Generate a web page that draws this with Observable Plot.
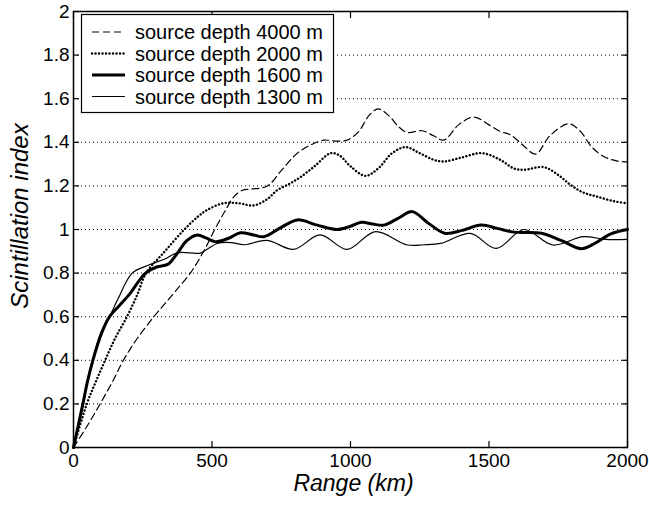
<!DOCTYPE html>
<html><head><meta charset="utf-8">
<script src="https://cdn.jsdelivr.net/npm/d3@7"></script>
<script src="https://cdn.jsdelivr.net/npm/@observablehq/plot@0.6"></script>
<style>body{margin:0;background:#fff} svg{font-family:"Liberation Sans",Arial,sans-serif}</style>
</head><body><div id="chart"></div>
<script>
const xTicks = [0, 500, 1000, 1500, 2000];
const yTicks = [0, 0.2, 0.4, 0.6, 0.8, 1, 1.2, 1.4, 1.6, 1.8, 2];
const gridY = [0.2, 0.4, 0.6, 0.8, 1, 1.2, 1.4, 1.6, 1.8];
const seriesNames = ["source depth 4000 m", "source depth 2000 m", "source depth 1600 m", "source depth 1300 m"];

const range4000 = [0, 50, 96, 140, 180, 230, 290, 330, 370, 422, 470, 510, 545, 579, 610, 640, 700, 750, 808, 860, 904, 950, 988, 1030, 1065, 1100, 1140, 1175, 1205, 1259, 1300, 1337, 1390, 1445, 1500, 1540, 1578, 1620, 1668, 1720, 1788, 1830, 1870, 1914, 1960, 2000];
const value4000 = [0, 0.1, 0.2, 0.3, 0.4, 0.5, 0.6, 0.66, 0.72, 0.8, 0.9, 1.0, 1.08, 1.15, 1.18, 1.185, 1.2, 1.27, 1.35, 1.39, 1.41, 1.405, 1.41, 1.45, 1.52, 1.553, 1.52, 1.47, 1.445, 1.453, 1.43, 1.41, 1.48, 1.516, 1.48, 1.45, 1.434, 1.39, 1.346, 1.43, 1.485, 1.45, 1.38, 1.335, 1.315, 1.31];

const range2000 = [0, 48, 80, 114, 150, 193, 230, 262, 330, 400, 450, 483, 540, 600, 650, 700, 735, 780, 819, 870, 928, 960, 1000, 1054, 1100, 1150, 1199, 1250, 1300, 1337, 1400, 1475, 1540, 1590, 1626, 1698, 1750, 1794, 1840, 1890, 1950, 2000];
const value2000 = [0, 0.2, 0.3, 0.4, 0.5, 0.6, 0.7, 0.8, 0.9, 1.0, 1.06, 1.09, 1.12, 1.12, 1.11, 1.14, 1.18, 1.21, 1.24, 1.29, 1.35, 1.34, 1.29, 1.246, 1.28, 1.35, 1.378, 1.35, 1.32, 1.312, 1.33, 1.35, 1.32, 1.28, 1.274, 1.286, 1.25, 1.205, 1.17, 1.151, 1.13, 1.12];

const range1600 = [0, 34, 50, 70, 100, 130, 165, 200, 260, 300, 340, 374, 410, 447, 480, 512, 560, 603, 650, 687, 750, 808, 880, 952, 1000, 1040, 1080, 1120, 1170, 1223, 1280, 1340, 1400, 1472, 1530, 1590, 1690, 1760, 1833, 1880, 1940, 2000];
const value1600 = [0, 0.2, 0.3, 0.4, 0.52, 0.6, 0.65, 0.7, 0.8, 0.828, 0.84, 0.89, 0.95, 0.975, 0.96, 0.944, 0.96, 0.985, 0.975, 0.967, 1.01, 1.044, 1.02, 1.0, 1.015, 1.033, 1.025, 1.02, 1.05, 1.082, 1.03, 0.983, 0.995, 1.021, 1.005, 0.988, 0.983, 0.95, 0.912, 0.935, 0.98, 1.0];

const range1300 = [0, 32, 68, 100, 130, 160, 212, 272, 330, 374, 420, 458, 519, 570, 615, 699, 795, 890, 988, 1090, 1205, 1265, 1325, 1433, 1526, 1626, 1730, 1840, 1920, 2000];
const value1300 = [0, 0.2, 0.4, 0.53, 0.6, 0.68, 0.8, 0.837, 0.865, 0.893, 0.893, 0.892, 0.936, 0.94, 0.93, 0.95, 0.909, 0.975, 0.909, 0.99, 0.929, 0.93, 0.936, 0.982, 0.913, 1.0, 0.929, 0.967, 0.955, 0.955];

const toRows = (xs, ys) => xs.map((x, i) => ({x, y: ys[i]}));
const styles = [
  {strokeWidth: 1.2, strokeDasharray: "7,4"},
  {strokeWidth: 2.4, strokeDasharray: "0.1,3.4", strokeLinecap: "round"},
  {strokeWidth: 3},
  {strokeWidth: 1.2}
];
const data = [toRows(range4000, value4000), toRows(range2000, value2000), toRows(range1600, value1600), toRows(range1300, value1300)];
const font = '"Liberation Sans", Arial, sans-serif';

const chart = Plot.plot({
  width: 649, height: 508,
  marginLeft: 73, marginRight: 22, marginTop: 11, marginBottom: 61,
  x: {domain: [0, 2000]},
  y: {domain: [0, 2]},
  style: {fontFamily: font, fontSize: "19px", color: "black", background: "white"},
  marks: [
    Plot.ruleY(gridY, {stroke: "black", strokeWidth: 1, strokeDasharray: "1,3"}),
    ...data.map((d, i) => Plot.line(d, {x: "x", y: "y", curve: "catmull-rom", stroke: "black", ...styles[i]})),
    Plot.frame({stroke: "black", strokeWidth: 1.5}),
    Plot.axisX({anchor: "bottom", ticks: xTicks, tickSize: -6, tickFormat: () => "", label: null, strokeWidth: 1.2}),
    Plot.axisX({anchor: "top", ticks: xTicks, tickSize: -6, tickFormat: () => "", label: null, strokeWidth: 1.2}),
    Plot.axisY({anchor: "left", ticks: yTicks, tickSize: -6, tickFormat: () => "", label: null, strokeWidth: 1.2}),
    Plot.axisY({anchor: "right", ticks: yTicks, tickSize: -6, tickFormat: () => "", label: null, strokeWidth: 1.2}),
    Plot.axisX({anchor: "bottom", ticks: xTicks, tickSize: 0, tickPadding: 6, tickFormat: d => String(d), label: null, fontSize: 19}),
    Plot.axisY({anchor: "left", ticks: yTicks, tickSize: 0, tickPadding: 4, tickFormat: d => String(d), label: null, fontSize: 19}),
    Plot.text(["Range (km)"], {frameAnchor: "bottom", textAnchor: "middle", lineAnchor: "bottom", dy: 43, dx: 3, fontSize: 23, fontStyle: "italic"}),
    Plot.text(["Scintillation index"], {frameAnchor: "left", textAnchor: "middle", lineAnchor: "bottom", rotate: -90, dx: -46, dy: -13.5, fontSize: 24, fontStyle: "italic"})
  ]
});
document.getElementById("chart").appendChild(chart);

// Legend
const svg = d3.select(chart);
const lg = svg.append("g");
lg.append("rect").attr("x", 81.5).attr("y", 14.5).attr("width", 252).attr("height", 98)
  .attr("fill", "white").attr("stroke", "black").attr("stroke-width", 1.2);
const rowY = [32, 53.5, 75, 96.5];
seriesNames.forEach((name, i) => {
  const s = styles[i];
  lg.append("line").attr("x1", 92).attr("x2", 125).attr("y1", rowY[i]).attr("y2", rowY[i])
    .attr("stroke", "black").attr("stroke-width", s.strokeWidth)
    .attr("stroke-dasharray", s.strokeDasharray || null)
    .attr("stroke-linecap", s.strokeLinecap || null);
  lg.append("text").attr("x", 135).attr("y", rowY[i]).attr("dy", "0.35em")
    .attr("text-anchor", "start")
    .attr("font-size", 20).attr("fill", "black").attr("font-family", font).text(name);
});
</script></body></html>
